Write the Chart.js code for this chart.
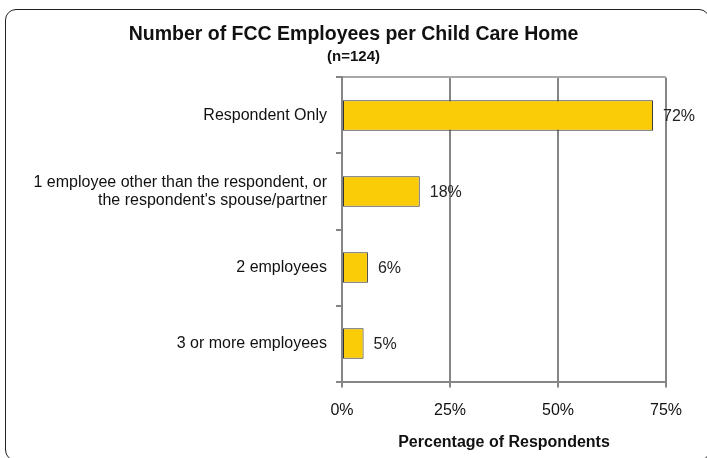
<!DOCTYPE html>
<html>
<head>
<meta charset="utf-8">
<title>Number of FCC Employees per Child Care Home</title>
<script src="https://cdn.jsdelivr.net/npm/chart.js@4.4.0/dist/chart.umd.min.js"></script>
<style>
    html, body { margin: 0; padding: 0; background: #fff; overflow: hidden; }
    #wrap { position: relative; width: 707px; height: 458px; }
    #frame {
        position: absolute; left: 5px; top: 9px; width: 705px; height: 452px;
        border: 1.5px solid #222; border-radius: 11px; box-sizing: border-box;
        pointer-events: none;
    }
    canvas { position: absolute; left: 0; top: 0; }
</style>
</head>
<body>
<div id="wrap">
    <canvas id="chart" width="707" height="458"></canvas>
    <div id="frame"></div>
</div>
<script>
// Categories and percentages
const categorias = [
    'Respondent Only',
    ['1 employee other than the respondent, or', 'the respondent\'s spouse/partner'],
    '2 employees',
    '3 or more employees'
];
const percentuais = [72, 18, 6, 5];
const ticksX = [0, 25, 50, 75];

const FONTE = "Arial, 'Liberation Sans', sans-serif";
const CINZA = '#858585';

// Writes the value beside the end of each bar
const rotulosValor = {
    id: 'rotulosValor',
    afterDatasetsDraw(chart) {
        const ctx = chart.ctx;
        const meta = chart.getDatasetMeta(0);
        ctx.save();
        ctx.font = '16px ' + FONTE;
        ctx.fillStyle = '#222';
        ctx.textAlign = 'left';
        ctx.textBaseline = 'middle';
        meta.data.forEach((bar, i) => {
            ctx.fillText(percentuais[i] + '%', bar.x + 10, bar.y + 1);
        });
        ctx.restore();
    }
};

const ctx = document.getElementById('chart').getContext('2d');
new Chart(ctx, {
    type: 'bar',
    data: {
        labels: categorias,
        datasets: [{
            data: percentuais,
            backgroundColor: '#FACC07',
            borderColor: '#333333',
            borderWidth: 1,
            borderSkipped: false,
            barPercentage: 0.4,
            categoryPercentage: 1
        }]
    },
    options: {
        indexAxis: 'y',
        responsive: false,
        animation: false,
        layout: { padding: { left: 0, right: 0, top: 0, bottom: 6 } },
        plugins: {
            legend: { display: false },
            tooltip: { enabled: false },
            title: {
                display: true,
                text: 'Number of FCC Employees per Child Care Home',
                color: '#111',
                font: { family: FONTE, size: 19.5, weight: 'bold' },
                padding: { top: 23, bottom: 0 }
            },
            subtitle: {
                display: true,
                text: '(n=124)',
                color: '#111',
                font: { family: FONTE, size: 15, weight: 'bold' },
                padding: { top: 1, bottom: 12 }
            }
        },
        scales: {
            x: {
                min: 0,
                max: 75,
                afterBuildTicks(scale) {
                    scale.ticks = ticksX.map(v => ({ value: v }));
                },
                ticks: {
                    color: '#111',
                    font: { family: FONTE, size: 16 },
                    padding: 13,
                    callback: v => v + '%'
                },
                grid: {
                    color: CINZA,
                    lineWidth: 2,
                    tickLength: 6,
                    tickColor: CINZA
                },
                border: { color: CINZA, width: 2 },
                title: {
                    display: true,
                    text: 'Percentage of Respondents',
                    color: '#111',
                    font: { family: FONTE, size: 16, weight: 'bold' },
                    padding: { top: 0, bottom: 0 }
                }
            },
            y: {
                afterFit(scale) { scale.width = 342; },
                ticks: {
                    color: '#111',
                    font: { family: FONTE, size: 16, lineHeight: 1.1 },
                    padding: 9
                },
                grid: {
                    offset: true,
                    lineWidth: 2,
                    tickLength: 6,
                    tickColor: CINZA,
                    color: c => c.index === 0 ? '#a8a8a8' : 'rgba(0,0,0,0)'
                },
                border: { color: CINZA, width: 2 }
            },
            // empty right-hand margin so the title stays centred on the canvas
            margem: {
                type: 'linear',
                position: 'right',
                display: true,
                afterFit(scale) { scale.width = 41; },
                grid: { display: false },
                ticks: { display: false },
                border: { display: false }
            }
        }
    },
    plugins: [rotulosValor]
});
</script>
</body>
</html>
